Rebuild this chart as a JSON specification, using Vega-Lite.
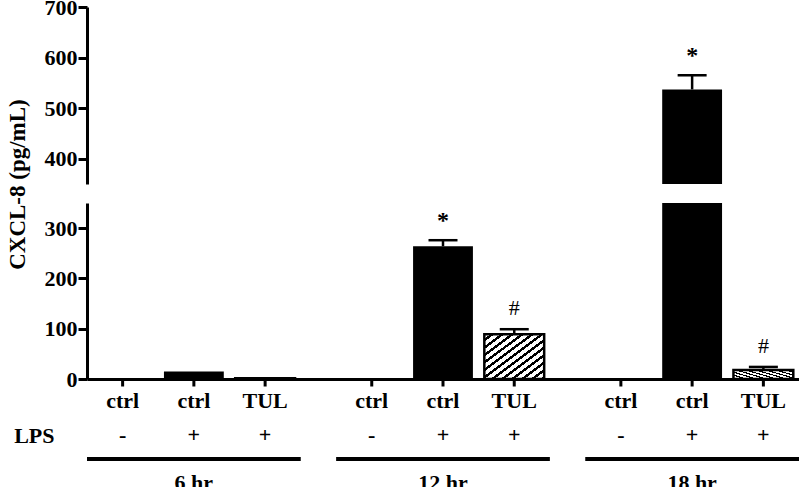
{
  "$schema": "https://vega.github.io/schema/vega-lite/v6.json",
  "padding": {"left": 6, "top": -4, "right": 0, "bottom": 0},
  "datasets": {
    "bars": [
      {"time": "6 hr", "cond": "ctrl-", "treatment": "ctrl", "lps": "-", "mean": 0, "upper": 0, "sig": ""},
      {"time": "6 hr", "cond": "ctrl+", "treatment": "ctrl", "lps": "+", "mean": 15, "upper": 15, "sig": ""},
      {"time": "6 hr", "cond": "TUL+", "treatment": "TUL", "lps": "+", "mean": 1.5, "upper": 1.5, "sig": ""},
      {"time": "12 hr", "cond": "ctrl-", "treatment": "ctrl", "lps": "-", "mean": 0, "upper": 0, "sig": ""},
      {"time": "12 hr", "cond": "ctrl+", "treatment": "ctrl", "lps": "+", "mean": 264, "upper": 276, "sig": "*"},
      {"time": "12 hr", "cond": "TUL+", "treatment": "TUL", "lps": "+", "mean": 89, "upper": 99, "sig": "#"},
      {"time": "18 hr", "cond": "ctrl-", "treatment": "ctrl", "lps": "-", "mean": 0, "upper": 0, "sig": ""},
      {"time": "18 hr", "cond": "ctrl+", "treatment": "ctrl", "lps": "+", "mean": 537, "upper": 565, "sig": "*"},
      {"time": "18 hr", "cond": "TUL+", "treatment": "TUL", "lps": "+", "mean": 18, "upper": 24, "sig": "#"}
    ]
  },
  "spacing": 19,
  "bounds": "flush",
  "vconcat": [
    {
      "width": 712,
      "height": 177,
      "data": {"name": "bars"},
      "encoding": {
        "x": {"field": "time", "type": "nominal", "scale": {"domain": ["6 hr", "12 hr", "18 hr"], "paddingInner": 0.142, "paddingOuter": 0}, "axis": null},
        "xOffset": {"field": "cond", "type": "nominal", "scale": {"domain": ["ctrl-", "ctrl+", "TUL+"], "paddingInner": 0.16, "paddingOuter": 0.08}}
      },
      "layer": [
        {
          "transform": [{"filter": "datum.treatment == 'ctrl'"}],
          "mark": {"type": "bar", "clip": true, "fill": "black"},
          "encoding": {
            "y": {"field": "mean", "type": "quantitative", "scale": {"domain": [350, 700], "nice": false, "zero": false}, "axis": {"values": [400, 500, 600, 700], "title": null}}
          }
        },
        {
          "transform": [{"filter": "datum.upper > datum.mean"}],
          "mark": {"type": "rule", "clip": true, "color": "black", "strokeWidth": 2.5},
          "encoding": {"y": {"field": "mean", "type": "quantitative"}, "y2": {"field": "upper"}}
        },
        {
          "transform": [{"filter": "datum.upper > datum.mean"}],
          "mark": {"type": "tick", "clip": true, "color": "black", "size": 29, "thickness": 2.5, "opacity": 1},
          "encoding": {"y": {"field": "upper", "type": "quantitative"}}
        },
        {
          "transform": [{"filter": "datum.sig == '*'"}],
          "mark": {"type": "text", "clip": true, "fontWeight": "bold", "fontSize": 24, "baseline": "alphabetic", "dy": -12},
          "encoding": {"y": {"field": "upper", "type": "quantitative"}, "text": {"field": "sig"}}
        }
      ]
    },
    {
      "width": 712,
      "height": 176,
      "data": {"name": "bars"},
      "encoding": {
        "x": {"field": "time", "type": "nominal", "scale": {"domain": ["6 hr", "12 hr", "18 hr"], "paddingInner": 0.142, "paddingOuter": 0}, "axis": {"labels": false, "ticks": false, "domain": true, "title": null}},
        "xOffset": {"field": "cond", "type": "nominal", "scale": {"domain": ["ctrl-", "ctrl+", "TUL+"], "paddingInner": 0.16, "paddingOuter": 0.08}}
      },
      "layer": [
        {
          "transform": [{"filter": "datum.treatment == 'ctrl'"}],
          "mark": {"type": "bar", "clip": true, "fill": "black"},
          "encoding": {
            "y": {"field": "mean", "type": "quantitative", "scale": {"domain": [0, 350], "nice": false}, "axis": {"values": [0, 100, 200, 300], "title": "CXCL-8 (pg/mL)", "titleY": -19, "titlePadding": 15}}
          }
        },
        {
          "transform": [{"filter": "datum.treatment == 'TUL'"}],
          "mark": {
            "type": "bar", "clip": true, "stroke": "black", "strokeWidth": 2.5,
            "fill": {
              "gradient": "linear", "x1": 0, "y1": 0, "x2": 1, "y2": 1,
              "stops": [
                {"offset": 0, "color": "white"}, {"offset": 0.05, "color": "white"}, {"offset": 0.05, "color": "black"}, {"offset": 0.0833, "color": "black"},
                {"offset": 0.0833, "color": "white"}, {"offset": 0.1333, "color": "white"}, {"offset": 0.1333, "color": "black"}, {"offset": 0.1667, "color": "black"},
                {"offset": 0.1667, "color": "white"}, {"offset": 0.2167, "color": "white"}, {"offset": 0.2167, "color": "black"}, {"offset": 0.25, "color": "black"},
                {"offset": 0.25, "color": "white"}, {"offset": 0.3, "color": "white"}, {"offset": 0.3, "color": "black"}, {"offset": 0.3333, "color": "black"},
                {"offset": 0.3333, "color": "white"}, {"offset": 0.3833, "color": "white"}, {"offset": 0.3833, "color": "black"}, {"offset": 0.4167, "color": "black"},
                {"offset": 0.4167, "color": "white"}, {"offset": 0.4667, "color": "white"}, {"offset": 0.4667, "color": "black"}, {"offset": 0.5, "color": "black"},
                {"offset": 0.5, "color": "white"}, {"offset": 0.55, "color": "white"}, {"offset": 0.55, "color": "black"}, {"offset": 0.5833, "color": "black"},
                {"offset": 0.5833, "color": "white"}, {"offset": 0.6333, "color": "white"}, {"offset": 0.6333, "color": "black"}, {"offset": 0.6667, "color": "black"},
                {"offset": 0.6667, "color": "white"}, {"offset": 0.7167, "color": "white"}, {"offset": 0.7167, "color": "black"}, {"offset": 0.75, "color": "black"},
                {"offset": 0.75, "color": "white"}, {"offset": 0.8, "color": "white"}, {"offset": 0.8, "color": "black"}, {"offset": 0.8333, "color": "black"},
                {"offset": 0.8333, "color": "white"}, {"offset": 0.8833, "color": "white"}, {"offset": 0.8833, "color": "black"}, {"offset": 0.9167, "color": "black"},
                {"offset": 0.9167, "color": "white"}, {"offset": 0.9667, "color": "white"}, {"offset": 0.9667, "color": "black"}, {"offset": 1, "color": "black"}
              ]
            }
          },
          "encoding": {"y": {"field": "mean", "type": "quantitative"}}
        },
        {
          "transform": [{"filter": "datum.upper > datum.mean"}],
          "mark": {"type": "rule", "clip": true, "color": "black", "strokeWidth": 2.5},
          "encoding": {"y": {"field": "mean", "type": "quantitative"}, "y2": {"field": "upper"}}
        },
        {
          "transform": [{"filter": "datum.upper > datum.mean"}],
          "mark": {"type": "tick", "clip": true, "color": "black", "size": 29, "thickness": 2.5, "opacity": 1},
          "encoding": {"y": {"field": "upper", "type": "quantitative"}}
        },
        {
          "transform": [{"filter": "datum.sig == '*'"}],
          "mark": {"type": "text", "clip": true, "fontWeight": "bold", "fontSize": 24, "baseline": "alphabetic", "dy": -12},
          "encoding": {"y": {"field": "upper", "type": "quantitative"}, "text": {"field": "sig"}}
        },
        {
          "transform": [{"filter": "datum.sig == '#'"}],
          "mark": {"type": "text", "clip": true, "fontWeight": "normal", "fontSize": 22, "baseline": "alphabetic", "dy": -14},
          "encoding": {"y": {"field": "upper", "type": "quantitative"}, "text": {"field": "sig"}}
        },
        {
          "mark": {"type": "tick", "orient": "vertical", "color": "black", "size": 7, "thickness": 3, "opacity": 1},
          "encoding": {"y": {"datum": 0, "type": "quantitative"}, "yOffset": {"value": 4}}
        }
      ]
    },
    {
      "width": 712,
      "height": 40,
      "data": {"name": "bars"},
      "encoding": {
        "x": {"field": "time", "type": "nominal", "scale": {"domain": ["6 hr", "12 hr", "18 hr"], "paddingInner": 0.142, "paddingOuter": 0}, "axis": null},
        "xOffset": {"field": "cond", "type": "nominal", "scale": {"domain": ["ctrl-", "ctrl+", "TUL+"], "paddingInner": 0.16, "paddingOuter": 0.08}}
      },
      "layer": [
        {
          "mark": {"type": "text", "fontWeight": "bold", "fontSize": 22, "baseline": "middle"},
          "encoding": {
            "y": {"datum": "name", "type": "nominal", "scale": {"type": "point", "domain": ["name", "LPS"], "padding": 0.088}, "axis": {"title": null, "domain": false, "ticks": false, "labelPadding": 33, "labelExpr": "datum.value == 'LPS' ? 'LPS' : ''"}},
            "text": {"field": "treatment"}
          }
        },
        {
          "mark": {"type": "text", "fontWeight": "bold", "fontSize": 22, "baseline": "middle"},
          "encoding": {
            "y": {"datum": "LPS", "type": "nominal"},
            "text": {"field": "lps"}
          }
        }
      ]
    },
    {
      "width": 712,
      "height": 4,
      "data": {"values": [{"time": "6 hr"}, {"time": "12 hr"}, {"time": "18 hr"}]},
      "mark": {"type": "bar", "fill": "black"},
      "encoding": {
        "x": {"field": "time", "type": "nominal", "scale": {"domain": ["6 hr", "12 hr", "18 hr"], "paddingInner": 0.142, "paddingOuter": 0}, "axis": {"title": null, "domain": false, "ticks": false, "labelAngle": 0, "labelPadding": 11}}
      }
    }
  ],
  "config": {
    "view": {"stroke": null},
    "font": "Liberation Serif",
    "axis": {
      "grid": false,
      "domainColor": "black",
      "domainWidth": 3,
      "tickColor": "black",
      "tickWidth": 3,
      "tickSize": 9,
      "labelFont": "Liberation Serif",
      "labelFontWeight": "bold",
      "labelFontSize": 22,
      "labelColor": "black",
      "labelPadding": 1,
      "titleFont": "Liberation Serif",
      "titleFontWeight": "bold",
      "titleFontSize": 23,
      "titleColor": "black"
    },
    "text": {"font": "Liberation Serif", "color": "black"}
  }
}
